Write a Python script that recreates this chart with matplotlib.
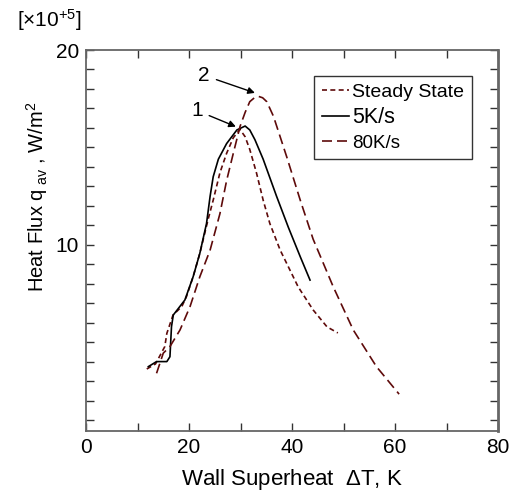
import matplotlib
matplotlib.use("Agg")
import matplotlib.pyplot as plt
from matplotlib.ticker import MultipleLocator

plt.rcParams['font.family'] = ['Liberation Sans', 'DejaVu Sans']
plt.rcParams['mathtext.default'] = 'regular'

# data (x: wall superheat K, y: heat flux x1e5 W/m2)
steady_x = [11.8, 13.5, 15.3, 15.7, 16.9, 18.6, 19.5, 20.8, 22.1, 23.7, 24.7, 26.0,
            27.3, 28.6, 29.9, 30.9, 31.8, 33.1, 34.4, 35.7, 37.7, 41.2, 44.1, 46.8, 48.9]
steady_y = [3.64, 3.9, 4.79, 5.47, 6.41, 6.84, 7.35, 8.37, 9.57, 11.3, 12.3, 13.7,
            14.7, 15.5, 15.93, 15.55, 14.9, 13.7, 12.3, 11.1, 9.74, 7.85, 6.67, 5.8, 5.49]

k5_x = [12.1, 13.7, 15.7, 16.3, 16.6, 16.95, 19.2, 20.8, 22.1, 23.4, 24.1, 24.7,
        25.7, 27.3, 29.3, 30.9, 31.8, 32.8, 34.4, 37.0, 39.3, 41.6, 43.5]
k5_y = [3.76, 4.02, 4.02, 4.27, 5.81, 6.41, 7.18, 8.37, 9.57, 11.1, 12.5, 13.5,
        14.4, 15.2, 15.9, 16.1, 15.9, 15.4, 14.4, 12.5, 10.9, 9.4, 8.2]

k80_x = [13.7, 15.0, 16.3, 18.25, 20.2, 22.1, 24.1, 26.0, 27.3, 28.6, 29.9, 30.9,
         31.8, 32.7, 33.5, 34.3, 35.1, 36.4, 37.7, 39.0, 41.6, 44.1, 48.0, 51.9, 56.4, 60.8]
k80_y = [3.42, 4.45, 4.79, 5.64, 6.84, 8.37, 9.74, 11.6, 13.3, 14.7, 16.07, 16.8,
         17.35, 17.55, 17.62, 17.55, 17.35, 16.6, 15.55, 14.5, 12.3, 10.3, 7.86, 5.64, 3.76, 2.35]

red = '#5e0a0a'

fig = plt.figure(figsize=(5.18, 4.93), dpi=100)
ax = fig.add_axes([86 / 518, 1 - 431 / 493, 412 / 518, 381 / 493])

ax.plot(steady_x, steady_y, color=red, lw=1.2, dashes=(3, 2), label='Steady State')
ax.plot(k5_x, k5_y, color='black', lw=1.2, label='5K/s')
ax.plot(k80_x, k80_y, color=red, lw=1.2, dashes=(6, 3), label='80K/s')

ax.set_xlim(0, 80)
ax.set_ylim(0.46, 20)
ax.xaxis.set_major_locator(MultipleLocator(20))
ax.xaxis.set_minor_locator(MultipleLocator(10))
ax.yaxis.set_major_locator(MultipleLocator(10))
ax.yaxis.set_minor_locator(MultipleLocator(1))
ax.tick_params(which='both', direction='in', top=True, right=True,
               length=6, width=1, color='#333333', labelsize=15, pad=5)

for s in ax.spines.values():
    s.set_color('#666666')
    s.set_linewidth(1.3)
ax.spines['right'].set_linewidth(2)

ax.set_xlabel('Wall Superheat  $\\Delta$T, K', fontsize=16, labelpad=7)
ax.set_ylabel('Heat Flux q$_{\\ av}$ , W/m$^{2}$', fontsize=14.5)
ax.yaxis.set_label_coords(-36 / 412, (431 - 197) / 381)

fig.text(17 / 518, 1 - 20 / 493, '[\u00d710$^{+5}$]', fontsize=15, va='center', ha='left')

arrow = dict(arrowstyle='-|>', color='black', lw=1, mutation_scale=10, shrinkA=3, shrinkB=0)
ax.annotate('1', xy=(29.1, 16.07), xytext=(21.5, 16.9), fontsize=15,
            ha='center', va='center', arrowprops=arrow)
ax.annotate('2', xy=(32.8, 17.8), xytext=(22.9, 18.7), fontsize=15,
            ha='center', va='center', arrowprops=arrow)

leg = ax.legend(loc='upper right', bbox_to_anchor=(0.937, 0.932), borderaxespad=0,
                fontsize=14, frameon=True, fancybox=False, edgecolor='black',
                handlelength=1.4, handletextpad=0.15, borderpad=0.4, labelspacing=0.3)
leg.get_frame().set_linewidth(1)
texts = leg.get_texts()
texts[1].set_fontsize(15.5)
texts[2].set_fontsize(13.5)

fig.savefig('out.png', dpi=100)
